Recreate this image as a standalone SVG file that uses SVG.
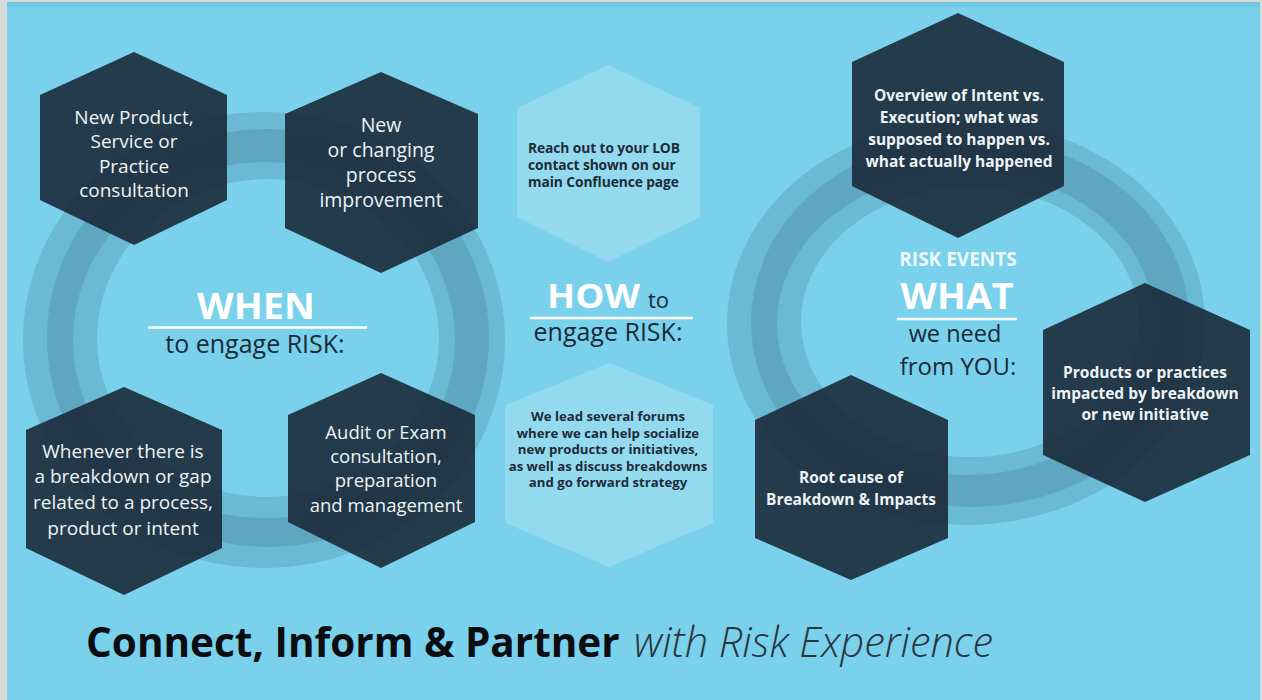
<svg xmlns="http://www.w3.org/2000/svg" width="1262" height="700" viewBox="0 0 1262 700">
<style>
.bg{fill:#7ad1ec}
.ring{fill:none;stroke:#1e3a52;stroke-opacity:0.15}
.hexd{fill:#1b2a3a;fill-opacity:0.9}
.hexl{fill:#ffffff;fill-opacity:0.2}
.td{font-family:"Open Sans","DejaVu Sans",sans-serif;fill:#eef3f6;text-anchor:middle}
.tb{font-family:"Open Sans","DejaVu Sans",sans-serif;font-weight:bold;fill:#eef3f6;text-anchor:middle}
.tl{font-family:"Open Sans","DejaVu Sans",sans-serif;font-weight:bold;fill:#1e2b38}
.big{font-family:"Open Sans","DejaVu Sans",sans-serif;font-weight:bold;fill:#ffffff}
.sub{font-family:"Open Sans","DejaVu Sans",sans-serif;fill:#1b2a38}
.ul{stroke:#ffffff;stroke-width:2.5}
</style>
<rect x="0" y="0" width="1262" height="700" fill="#d6d8da"/>
<rect class="bg" x="7" y="2" width="1253" height="698"/>
<rect x="7" y="2" width="1253" height="5" fill="#5fb8d6" fill-opacity="0.35"/>

<g id="rings">
  <ellipse class="ring" cx="264" cy="340" rx="216" ry="203" stroke-width="50"/>
  <ellipse class="ring" cx="268" cy="338" rx="196" ry="184" stroke-width="50"/>
  <ellipse class="ring" cx="966" cy="323" rx="214" ry="177" stroke-width="50"/>
  <ellipse class="ring" cx="970" cy="322" rx="194" ry="160" stroke-width="50"/>
</g>

<g id="when-new-product">
  <polygon class="hexd" points="134,52 227,95 227,200 134,245 40,200 40,95"/>
  <text class="td" font-size="19"><tspan x="134" y="124">New Product,</tspan><tspan x="134" y="148">Service or</tspan><tspan x="134" y="173">Practice</tspan><tspan x="134" y="197">consultation</tspan></text>
</g>
<g id="when-process">
  <polygon class="hexd" points="381,72 478,114 478,228 381,273 285,228 285,114"/>
  <text class="td" font-size="19.5"><tspan x="381" y="132">New</tspan><tspan x="381" y="157">or changing</tspan><tspan x="381" y="182">process</tspan><tspan x="381" y="207">improvement</tspan></text>
</g>
<g id="when-breakdown">
  <polygon class="hexd" points="124,387 222,430 222,548 124,595 26,548 26,430"/>
  <text class="td" font-size="19"><tspan x="123" y="458">Whenever there is</tspan><tspan x="123" y="483">a breakdown or gap</tspan><tspan x="123" y="509">related to a process,</tspan><tspan x="123" y="535">product or intent</tspan></text>
</g>
<g id="when-audit">
  <polygon class="hexd" points="381,373 475,415 475,522 381,568 288,522 288,415"/>
  <text class="td" font-size="18.5"><tspan x="386" y="439">Audit or Exam</tspan><tspan x="386" y="463">consultation,</tspan><tspan x="386" y="487">preparation</tspan><tspan x="386" y="512">and management</tspan></text>
</g>

<g id="when-label">
  <text class="big" x="256" y="319" font-size="36" text-anchor="middle" textLength="118" lengthAdjust="spacingAndGlyphs">WHEN</text>
  <line class="ul" x1="148" y1="327.5" x2="367" y2="327.5"/>
  <text class="sub" x="255" y="353" font-size="25" text-anchor="middle">to engage RISK:</text>
</g>

<g id="how-reach">
  <polygon class="hexl" points="608,65 700,108 700,217 608,262 517,217 517,108"/>
  <text class="tl" font-size="13.8" letter-spacing="-0.1"><tspan x="528" y="153">Reach out to your LOB</tspan><tspan x="528" y="170">contact shown on our</tspan><tspan x="528" y="187">main Confluence page</tspan></text>
</g>
<g id="how-label">
  <text class="big" x="547" y="308" font-size="34" textLength="93" lengthAdjust="spacingAndGlyphs">HOW</text>
  <text class="sub" x="648" y="308" font-size="22">to</text>
  <line class="ul" x1="530" y1="318" x2="693" y2="318"/>
  <text class="sub" x="608" y="341" font-size="25" text-anchor="middle">engage RISK:</text>
</g>
<g id="how-forums">
  <polygon class="hexl" points="609,363 713,405 713,523 609,567 505,523 505,405"/>
  <text class="tl" font-size="13.2" text-anchor="middle"><tspan x="608" y="421">We lead several forums</tspan><tspan x="608" y="437.5">where we can help socialize</tspan><tspan x="608" y="454">new products or initiatives,</tspan><tspan x="608" y="470.5">as well as discuss breakdowns</tspan><tspan x="608" y="487">and go forward strategy</tspan></text>
</g>

<g id="what-overview">
  <polygon class="hexd" points="958,13 1064,62 1064,186 958,238 852,186 852,62"/>
  <text class="tb" font-size="15.5"><tspan x="959" y="101">Overview of Intent vs.</tspan><tspan x="959" y="123">Execution; what was</tspan><tspan x="959" y="145">supposed to happen vs.</tspan><tspan x="959" y="167">what actually happened</tspan></text>
</g>
<g id="what-label">
  <text class="big" x="958" y="266" font-size="19" text-anchor="middle" fill-opacity="0.9">RISK EVENTS</text>
  <text class="big" x="957" y="309" font-size="35" text-anchor="middle" textLength="113" lengthAdjust="spacingAndGlyphs">WHAT</text>
  <line class="ul" x1="897" y1="319" x2="1017" y2="319"/>
  <text class="sub" x="955" y="342" font-size="23.5" text-anchor="middle">we need</text>
  <text class="sub" x="958" y="375" font-size="24" text-anchor="middle">from YOU:</text>
</g>
<g id="what-products">
  <polygon class="hexd" points="1145,283 1250,330 1250,455 1145,502 1043,455 1043,330"/>
  <text class="tb" font-size="15.5"><tspan x="1145" y="378">Products or practices</tspan><tspan x="1145" y="399">impacted by breakdown</tspan><tspan x="1145" y="420">or new initiative</tspan></text>
</g>
<g id="what-root-cause">
  <polygon class="hexd" points="851,375 948,420 948,538 851,580 755,538 755,420"/>
  <text class="tb" font-size="15.5"><tspan x="851" y="483">Root cause of</tspan><tspan x="851" y="505">Breakdown &amp; Impacts</tspan></text>
</g>

<g id="title">
  <text x="86" y="657" font-family="'Open Sans','DejaVu Sans',sans-serif" font-weight="bold" fill="#0b0d10" font-size="40.5">Connect, Inform &amp; Partner</text>
  <text x="634" y="657" font-family="'Open Sans','DejaVu Sans',sans-serif" font-style="italic" font-weight="300" fill="#2b3440" font-size="41.5">with Risk Experience</text>
</g>
</svg>
